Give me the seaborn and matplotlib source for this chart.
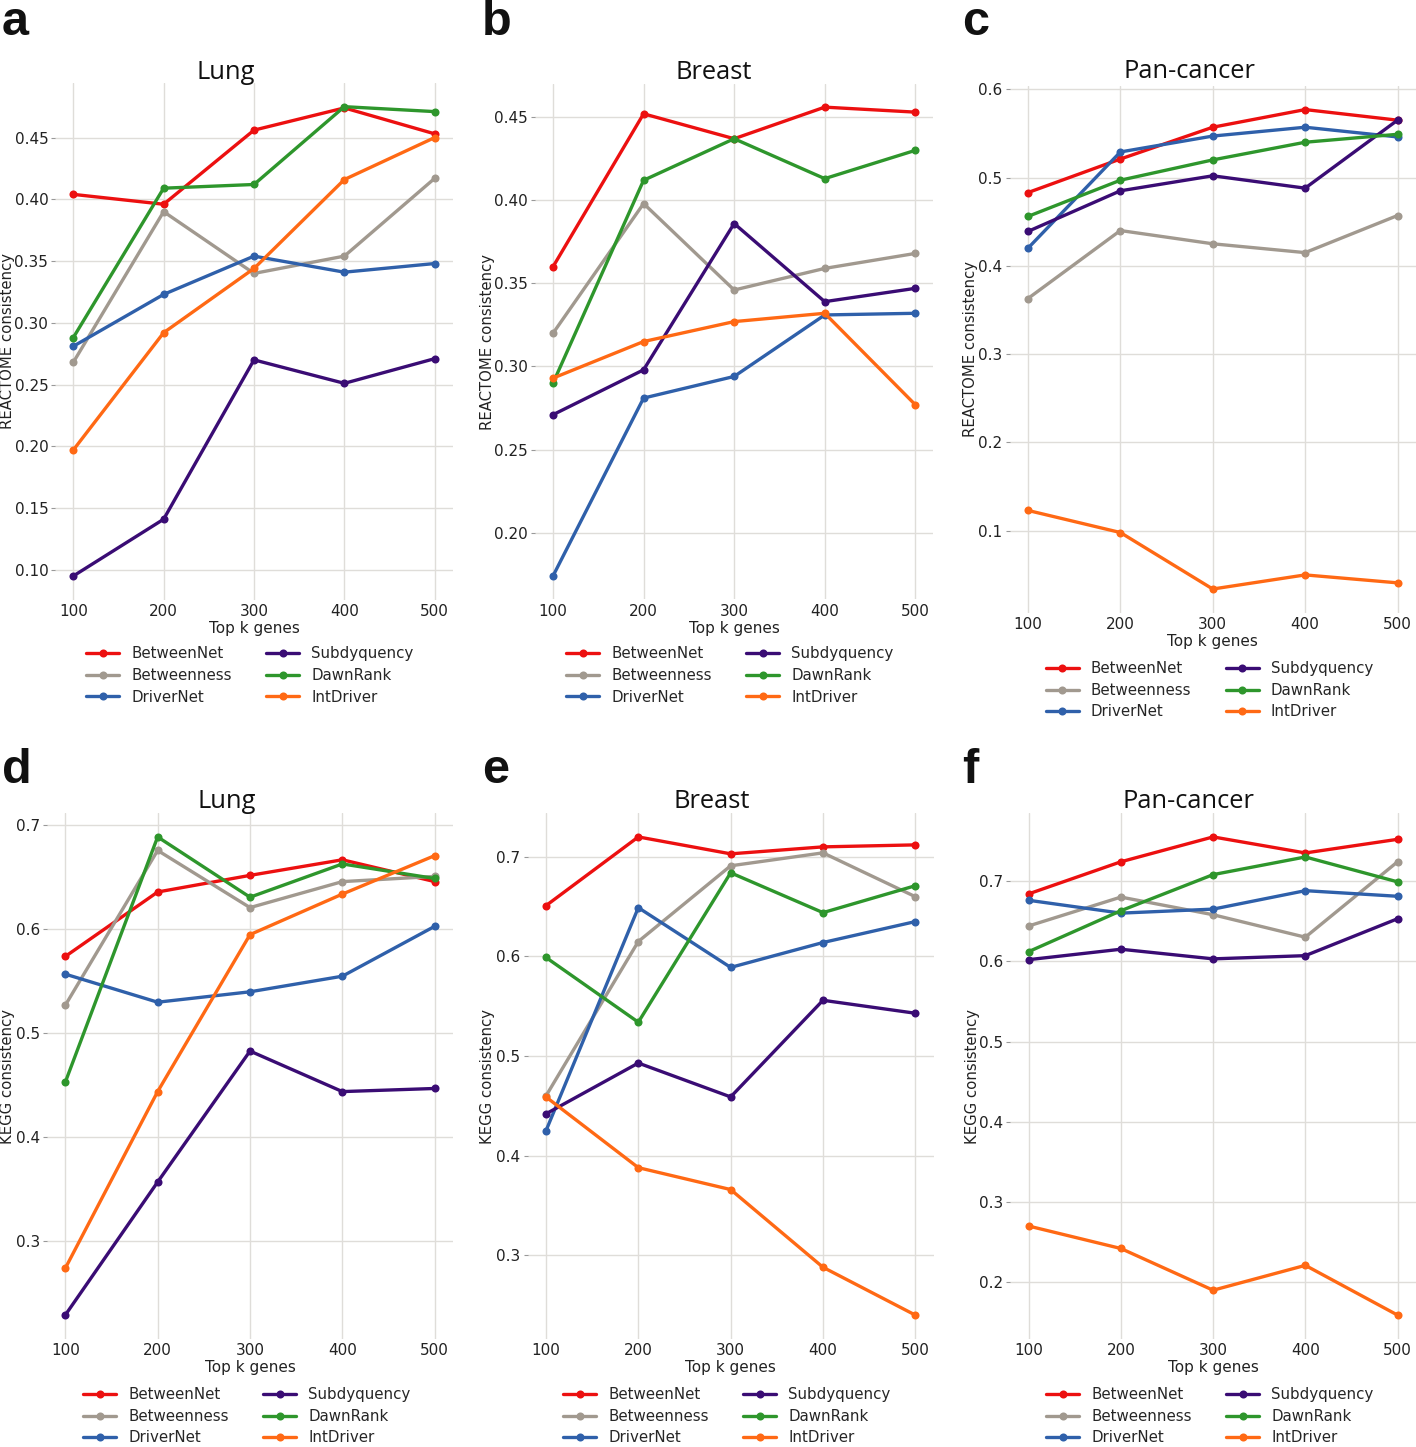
import numpy as np
import pandas as pd
import matplotlib
matplotlib.use("Agg")
import matplotlib.pyplot as plt
from matplotlib.ticker import MultipleLocator
import seaborn as sns

# ---------------- data ----------------
top_k = [100, 200, 300, 400, 500]
methods = ["BetweenNet", "Betweenness", "DriverNet", "Subdyquency", "DawnRank", "IntDriver"]
colors = ["#ec1010", "#a1998f", "#2f60aa", "#3a0c74", "#2e962c", "#ff6914"]

reactome_lung = {
    "BetweenNet":  [0.404, 0.396, 0.456, 0.474, 0.453],
    "Betweenness": [0.268, 0.390, 0.340, 0.354, 0.417],
    "DriverNet":   [0.281, 0.323, 0.354, 0.341, 0.348],
    "Subdyquency": [0.095, 0.141, 0.270, 0.251, 0.271],
    "DawnRank":    [0.288, 0.409, 0.412, 0.475, 0.471],
    "IntDriver":   [0.197, 0.292, 0.344, 0.416, 0.450],
}
reactome_breast = {
    "BetweenNet":  [0.360, 0.452, 0.437, 0.456, 0.453],
    "Betweenness": [0.320, 0.398, 0.346, 0.359, 0.368],
    "DriverNet":   [0.174, 0.281, 0.294, 0.331, 0.332],
    "Subdyquency": [0.271, 0.298, 0.386, 0.339, 0.347],
    "DawnRank":    [0.290, 0.412, 0.437, 0.413, 0.430],
    "IntDriver":   [0.293, 0.315, 0.327, 0.332, 0.277],
}
reactome_pan = {
    "BetweenNet":  [0.483, 0.521, 0.557, 0.577, 0.565],
    "Betweenness": [0.363, 0.440, 0.425, 0.415, 0.457],
    "DriverNet":   [0.420, 0.529, 0.547, 0.557, 0.546],
    "Subdyquency": [0.439, 0.485, 0.502, 0.488, 0.565],
    "DawnRank":    [0.456, 0.497, 0.520, 0.540, 0.549],
    "IntDriver":   [0.123, 0.098, 0.034, 0.050, 0.041],
}
kegg_lung = {
    "BetweenNet":  [0.574, 0.636, 0.652, 0.667, 0.646],
    "Betweenness": [0.527, 0.676, 0.621, 0.646, 0.651],
    "DriverNet":   [0.557, 0.530, 0.540, 0.555, 0.603],
    "Subdyquency": [0.229, 0.357, 0.483, 0.444, 0.447],
    "DawnRank":    [0.453, 0.689, 0.631, 0.663, 0.649],
    "IntDriver":   [0.274, 0.444, 0.595, 0.634, 0.671],
}
kegg_breast = {
    "BetweenNet":  [0.651, 0.720, 0.703, 0.710, 0.712],
    "Betweenness": [0.460, 0.615, 0.691, 0.704, 0.660],
    "DriverNet":   [0.425, 0.649, 0.589, 0.614, 0.635],
    "Subdyquency": [0.442, 0.493, 0.459, 0.556, 0.543],
    "DawnRank":    [0.599, 0.534, 0.684, 0.644, 0.671],
    "IntDriver":   [0.459, 0.388, 0.366, 0.288, 0.240],
}
kegg_pan = {
    "BetweenNet":  [0.684, 0.724, 0.755, 0.735, 0.752],
    "Betweenness": [0.644, 0.680, 0.658, 0.630, 0.724],
    "DriverNet":   [0.676, 0.660, 0.665, 0.688, 0.681],
    "Subdyquency": [0.602, 0.615, 0.603, 0.607, 0.653],
    "DawnRank":    [0.612, 0.663, 0.708, 0.730, 0.699],
    "IntDriver":   [0.270, 0.242, 0.190, 0.221, 0.159],
}

panel_letters = ["a", "b", "c", "d", "e", "f"]
panel_titles = ["Lung", "Breast", "Pan-cancer", "Lung", "Breast", "Pan-cancer"]
panel_ylabels = ["REACTOME consistency"] * 3 + ["KEGG consistency"] * 3
panel_data = [reactome_lung, reactome_breast, reactome_pan, kegg_lung, kegg_breast, kegg_pan]

# ---------------- style ----------------
sns.set_style("whitegrid")
plt.rcParams["font.family"] = ["DejaVu Sans"]
plt.rcParams["grid.color"] = "#dfddd9"
plt.rcParams["grid.linewidth"] = 1.0

W, H = 1416, 1447
fig = plt.figure(figsize=(W / 100, H / 100), dpi=100)

# layout (pixels): left, right, top, bottom
boxes = [
    (55.2, 452.8, 83.2, 599.5),
    (534.9, 933.4, 83.7, 599.4),
    (1009.5, 1416.0, 85.6, 613.0),
    (46.8, 453.2, 813.0, 1339.0),
    (527.5, 933.8, 813.0, 1339.0),
    (1010.2, 1416.0, 813.0, 1339.0),
]
title_x = [0.43, 0.449, 0.442, 0.443, 0.454, 0.44]
title_pad = [3.2, 3.5, 5.5, 3.5, 3.5, 3.5]
ylab_right = [15.5, 495.0, 978.0, 15.0, 495.0, 980.0]
legend_top = [646.0, 646.0, 661.0, 1387.0, 1387.0, 1387.0]
legend_cx = [250, 730, 1209.5, 247, 726.7, 1210]
letter_pos = [(2, 35), (482, 35), (962, 35), (2, 783), (482, 783), (962, 783)]
ystep = [0.05, 0.05, 0.1, 0.1, 0.1, 0.1]

for i in range(6):
    l, r, t, b = boxes[i]
    ax = fig.add_axes([l / W, 1 - b / H, (r - l) / W, (b - t) / H])
    d = panel_data[i]
    df = pd.DataFrame({
        "k": np.tile(top_k, len(methods)),
        "value": np.concatenate([d[m] for m in methods]),
        "method": np.repeat(methods, len(top_k)),
    })
    sns.lineplot(data=df, x="k", y="value", hue="method", hue_order=methods,
                 palette=colors, marker="o", markersize=5.8, markeredgewidth=0,
                 linewidth=2.4, legend=False, ax=ax)
    sns.despine(ax=ax, left=True, bottom=True, right=True, top=True)
    ax.set_xticks(top_k)
    ax.yaxis.set_major_locator(MultipleLocator(ystep[i]))
    ax.tick_params(axis="x", length=0, pad=3, labelsize=11, labelcolor="#222222")
    ax.tick_params(axis="y", length=3, width=0.8, color="#999999", pad=2,
                   labelsize=11, labelcolor="#222222", left=True)
    ax.set_xlabel("Top k genes", fontsize=11, color="#222222", labelpad=1.5)
    ax.set_ylabel(panel_ylabels[i], fontsize=10.7, color="#222222")
    ax.yaxis.set_label_coords((ylab_right[i] - l) / (r - l), 0.5)
    ax.set_title(panel_titles[i], family="Open Sans", fontsize=18.4,
                 color="#111111", x=title_x[i], pad=title_pad[i])
    ax.grid(True, which="major", axis="both")
    ax.set_axisbelow(True)

    handles = ax.lines[:len(methods)]
    ax.legend(handles=handles, labels=methods, loc="upper center",
              bbox_to_anchor=(legend_cx[i] / W, 1 - legend_top[i] / H),
              bbox_transform=fig.transFigure, ncol=2, frameon=False,
              fontsize=10.8, handlelength=2.2, handletextpad=0.8,
              columnspacing=2.3, labelspacing=0.45, borderpad=0,
              borderaxespad=0)

    lx, ly = letter_pos[i]
    fig.text(lx / W, 1 - ly / H, panel_letters[i], family="Liberation Sans",
             fontweight="bold", fontsize=35, color="#111111",
             ha="left", va="baseline")

fig.savefig("out.png", dpi=100)
